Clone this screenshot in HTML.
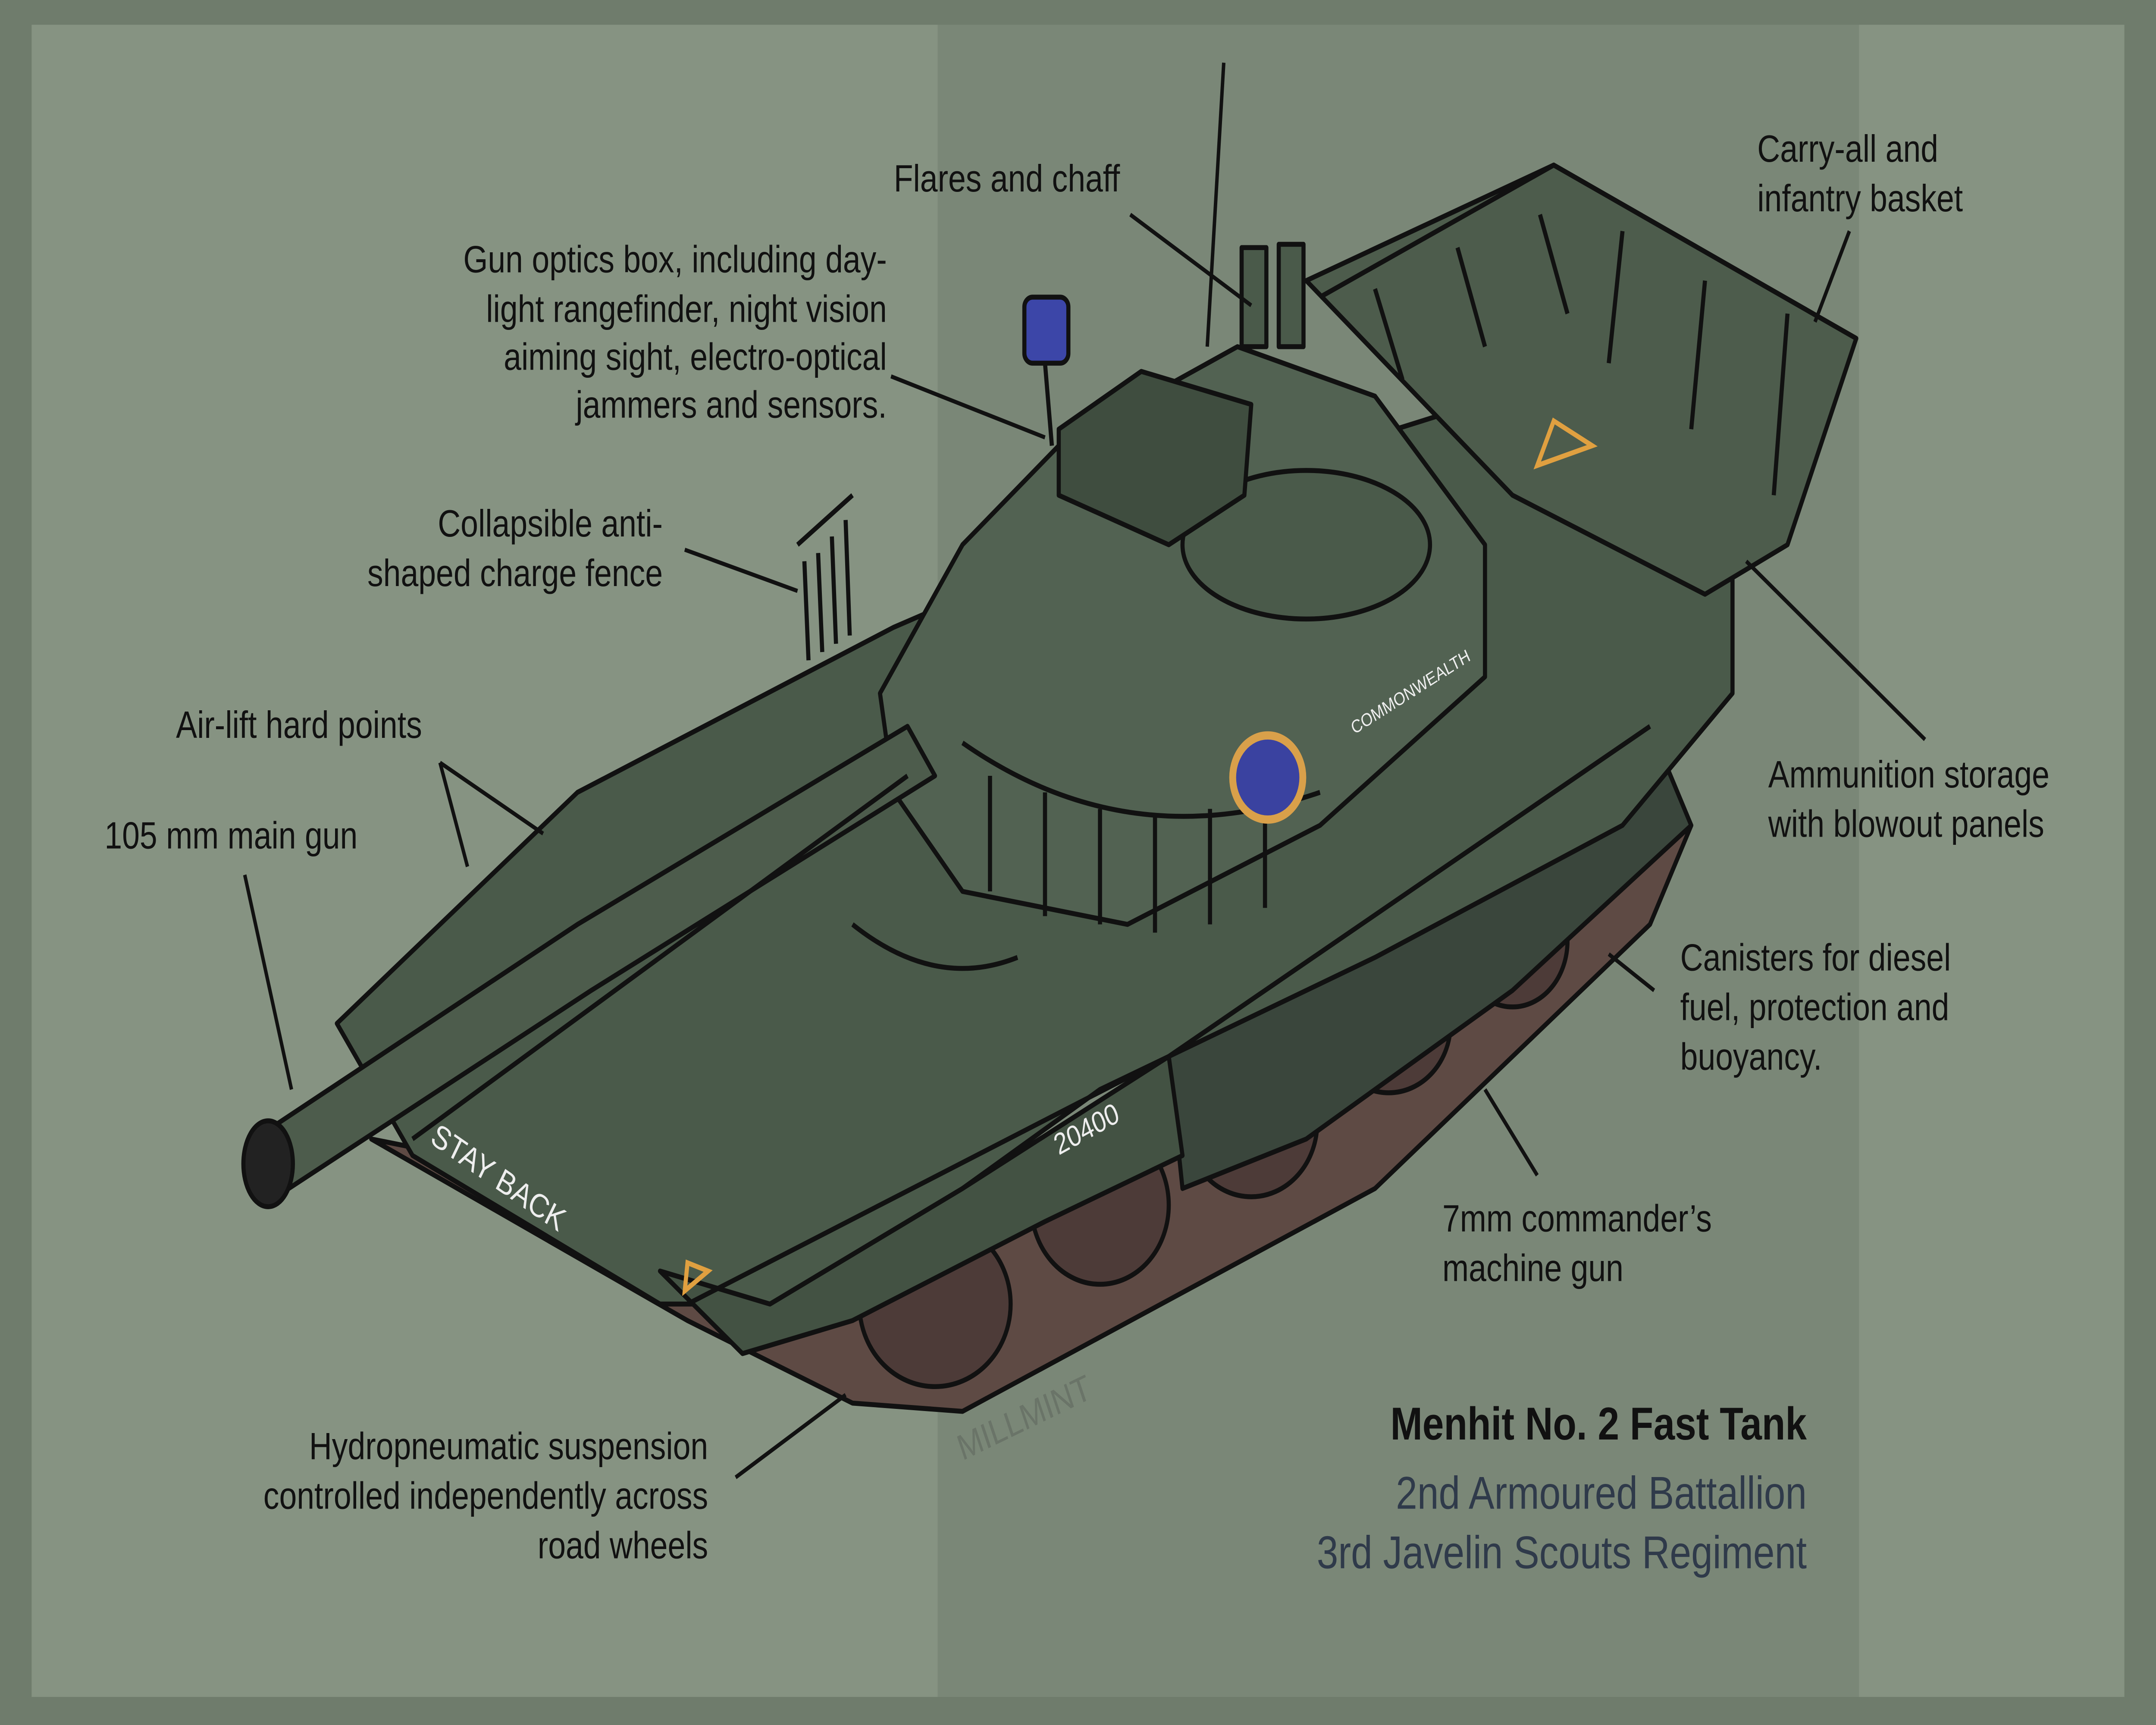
<!DOCTYPE html>
<html><head><meta charset="utf-8"><style>
html,body{margin:0;padding:0;width:100vw;height:100vh;overflow:hidden;background:#6f7c6c}
svg{display:block;position:absolute;left:0;top:0;width:100vw;height:100vh}
text{font-family:"Liberation Sans",Arial,sans-serif;fill:#111}
</style></head><body>
<svg viewBox="0 0 1568 1045" preserveAspectRatio="none" xmlns="http://www.w3.org/2000/svg">
<rect x="0" y="0" width="1568" height="1045" fill="#6f7c6c"/>
<rect x="23" y="15" width="659" height="1013" fill="#869382"/>
<rect x="682" y="15" width="670" height="1013" fill="#7a8777"/>
<rect x="1352" y="15" width="193" height="1013" fill="#869382"/>

<g stroke="#111" stroke-width="3" stroke-linejoin="round">
<polygon points="270,690 500,800 620,850 700,855 1000,720 1200,560 1230,500 1150,520 700,760 450,720" fill="#5e4a44"/>
<g fill="#4d3b38">
<ellipse cx="680" cy="790" rx="55" ry="50"/><ellipse cx="800" cy="730" rx="50" ry="48"/>
<ellipse cx="910" cy="680" rx="48" ry="45"/><ellipse cx="1010" cy="620" rx="45" ry="42"/>
<ellipse cx="1100" cy="570" rx="40" ry="40"/>
</g>
<polygon points="850,640 1000,560 1200,440 1230,500 1100,600 950,690 860,720" fill="#3a463c"/>
<polygon points="245,620 420,480 650,380 900,290 1130,230 1260,330 1260,420 1180,500 1000,580 800,660 700,720 560,790 480,790 420,760 300,700" fill="#4a5a4a"/>
<polygon points="480,770 560,790 700,720 850,640 860,700 760,740 620,800 540,820" fill="#435243"/>
<polygon points="950,170 1130,100 1350,205 1300,330 1240,360 1100,300" fill="#4d5c4c"/>
<polygon points="640,420 700,330 770,270 900,210 1000,240 1080,330 1080,410 960,500 820,560 700,540 650,480" fill="#526252"/>
<ellipse cx="950" cy="330" rx="90" ry="45" fill="#4a5a4a"/>
<polygon points="185,690 420,560 660,440 680,470 430,600 210,720" fill="#4d5c4c"/>
<ellipse cx="195" cy="705" rx="18" ry="26" fill="#222"/>
<polygon points="770,260 830,225 910,245 905,300 850,330 770,300" fill="#3f4d3f"/>
<rect x="745" y="180" width="32" height="40" rx="6" fill="#3c46a8"/>
<line x1="760" y1="220" x2="765" y2="270"/>
<rect x="903" y="150" width="18" height="60" fill="#4a5a4a"/>
<rect x="930" y="148" width="18" height="62" fill="#4a5a4a"/>
<path d="M580,330 L620,300 M585,340 L588,400 M595,335 L598,395 M605,325 L608,390 M615,315 L618,385" fill="none"/>
<path d="M700,450 Q820,520 960,480 M720,470 L720,540 M760,480 L760,555 M800,490 L800,560 M840,495 L840,565 M880,490 L880,560 M920,480 L920,550" fill="none"/>
<path d="M960,180 L1130,100 L1350,205 M1000,175 L1020,230 M1060,150 L1080,210 M1120,130 L1140,190 M1180,140 L1170,220 M1240,170 L1230,260 M1300,190 L1290,300" fill="none"/>
<path d="M300,690 L660,470 M500,790 L850,640 L1200,440 M620,560 Q680,600 740,580" fill="none"/>
</g>
<circle cx="922" cy="471" r="28" fill="#d9a04a"/><circle cx="922" cy="471" r="23" fill="#3a42a0"/>
<polygon points="1118,282 1158,270 1130,255" fill="none" stroke="#e0a040" stroke-width="3"/>
<polygon points="498,782 515,770 500,765" fill="none" stroke="#e0a040" stroke-width="3"/>
<text x="312" y="692" transform="rotate(30 312 692)" font-size="20" style="fill:#eee">STAY BACK</text>
<text x="770" y="700" transform="rotate(-25 770 700)" font-size="18" style="fill:#eee">20400</text>
<text x="985" y="445" transform="rotate(-28 985 445)" font-size="11" style="fill:#eee">COMMONWEALTH</text>
<text x="700" y="885" transform="rotate(-22 700 885)" font-size="22" style="fill:#6a7468">MILLMINT</text>

<g stroke="#111" stroke-width="2.5" fill="none">
<line x1="890" y1="38" x2="878" y2="210"/>
<line x1="822" y1="130" x2="910" y2="185"/>
<line x1="648" y1="228" x2="760" y2="265"/>
<line x1="1345" y1="140" x2="1320" y2="195"/>
<line x1="498" y1="333" x2="580" y2="358"/>
<line x1="320" y1="462" x2="340" y2="525"/>
<line x1="320" y1="462" x2="395" y2="505"/>
<line x1="178" y1="530" x2="212" y2="660"/>
<line x1="1400" y1="448" x2="1270" y2="340"/>
<line x1="1203" y1="600" x2="1170" y2="578"/>
<line x1="1118" y1="712" x2="1080" y2="660"/>
<line x1="535" y1="895" x2="615" y2="845"/>
</g>

<g font-size="23">
<text x="650" y="116">Flares and chaff</text>
<text x="645" y="165" text-anchor="end">Gun optics box, including day-</text>
<text x="645" y="195" text-anchor="end">light rangefinder, night vision</text>
<text x="645" y="224" text-anchor="end">aiming sight, electro-optical</text>
<text x="645" y="253" text-anchor="end">jammers and sensors.</text>
<text x="1278" y="98">Carry-all and</text>
<text x="1278" y="128">infantry basket</text>
<text x="482" y="325" text-anchor="end">Collapsible anti-</text>
<text x="482" y="355" text-anchor="end">shaped charge fence</text>
<text x="128" y="447">Air-lift hard points</text>
<text x="76" y="514">105 mm main gun</text>
<text x="1286" y="477">Ammunition storage</text>
<text x="1286" y="507">with blowout panels</text>
<text x="1222" y="588">Canisters for diesel</text>
<text x="1222" y="618">fuel, protection and</text>
<text x="1222" y="648">buoyancy.</text>
<text x="1049" y="746">7mm commander’s</text>
<text x="1049" y="776">machine gun</text>
<text x="515" y="884" text-anchor="end">Hydropneumatic suspension</text>
<text x="515" y="914" text-anchor="end">controlled independently across</text>
<text x="515" y="944" text-anchor="end">road wheels</text>
</g>
<text x="1314" y="872" text-anchor="end" font-size="28" font-weight="bold">Menhit No. 2 Fast Tank</text>
<text x="1314" y="914" text-anchor="end" font-size="28" style="fill:#2f3a4a">2nd Armoured Battallion</text>
<text x="1314" y="950" text-anchor="end" font-size="28" style="fill:#2f3a4a">3rd Javelin Scouts Regiment</text>
</svg>
</body></html>
